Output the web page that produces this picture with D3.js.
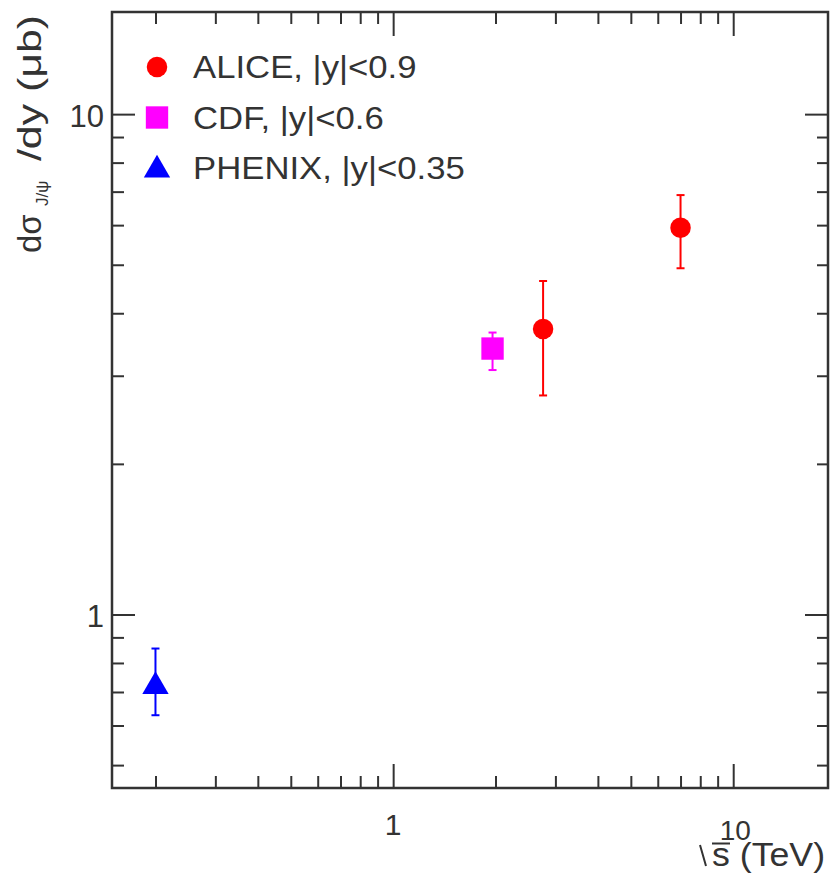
<!DOCTYPE html>
<html>
<head>
<meta charset="utf-8">
<script src="https://cdn.jsdelivr.net/npm/d3@7"></script>
<style>
  body { margin: 0; background: #fff; }
  text { font-family: "Liberation Sans", Arial, sans-serif; fill: #333; }
</style>
</head>
<body>
<svg id="chart" width="830" height="891"></svg>
<script>
// values
var legendLabels = ["ALICE, |y|<0.9", "CDF, |y|<0.6", "PHENIX, |y|<0.35"];
var aliceEnergy = [2.76, 7];
var aliceValue = [3.72, 5.93];
var aliceLow = [2.74, 4.92];
var aliceHigh = [4.64, 6.89];
var cdfEnergy = [1.96];
var cdfValue = [3.40];
var cdfLow = [3.08];
var cdfHigh = [3.66];
var phenixEnergy = [0.2];
var phenixValue = [0.725];
var phenixLow = [0.629];
var phenixHigh = [0.855];
var xMajor = [1, 10];
var xMinor = [0.2, 0.3, 0.4, 0.5, 0.6, 0.7, 0.8, 0.9, 2, 3, 4, 5, 6, 7, 8, 9];
var yMajor = [1, 10];
var yMinor = [0.5, 0.6, 0.7, 0.8, 0.9, 2, 3, 4, 5, 6, 7, 8, 9];

// frame edges (pixels)
var padL = 112, padR = 828, padT = 12, padB = 788;
var svg = d3.select("#chart");

var x = d3.scaleLog().domain([0.149, 19]).range([padL, padR]);
var y = d3.scaleLog().domain([0.45, 16]).range([padB, padT]);

// build series list from the arrays
function series(name, energy, value, low, high, color, shape) {
    return energy.map(function(e, i) {
        return { name: name, e: e, v: value[i], lo: low[i], hi: high[i], color: color, shape: shape };
    });
}
var points = [].concat(
    series("ALICE", aliceEnergy, aliceValue, aliceLow, aliceHigh, "#ff0000", "circle"),
    series("CDF", cdfEnergy, cdfValue, cdfLow, cdfHigh, "#ff00ff", "square"),
    series("PHENIX", phenixEnergy, phenixValue, phenixLow, phenixHigh, "#0000ff", "triangle")
);

// ticks on all four sides, ROOT style (pointing inward)
function addTicks(axisFn, scale, values, size, tx, ty) {
    var g = svg.append("g")
        .attr("transform", "translate(" + tx + "," + ty + ")")
        .call(axisFn(scale).tickValues(values).tickSize(size).tickSizeOuter(0).tickFormat(""));
    g.select(".domain").remove();
    g.selectAll("line").attr("stroke", "#333").attr("stroke-width", 2);
}
addTicks(d3.axisTop, x, xMajor, 24, 0, padB);
addTicks(d3.axisTop, x, xMinor, 12, 0, padB);
addTicks(d3.axisBottom, x, xMajor, 24, 0, padT);
addTicks(d3.axisBottom, x, xMinor, 12, 0, padT);
addTicks(d3.axisRight, y, yMajor, 23, padL, 0);
addTicks(d3.axisRight, y, yMinor, 12, padL, 0);
addTicks(d3.axisLeft, y, yMajor, 23, padR, 0);
addTicks(d3.axisLeft, y, yMinor, 11, padR, 0);

// frame
svg.append("rect")
    .attr("x", padL).attr("y", padT)
    .attr("width", padR - padL).attr("height", padB - padT)
    .attr("fill", "none").attr("stroke", "#333").attr("stroke-width", 2.5);

// tick labels
svg.selectAll(".ylab").data(yMajor).enter().append("text")
    .attr("x", 104).attr("y", function(d) { return y(d) + 13; })
    .attr("text-anchor", "end").attr("font-size", 31)
    .text(function(d) { return d; });
svg.append("text").attr("x", x(1)).attr("y", 835)
    .attr("text-anchor", "middle").attr("font-size", 30).text("1");
svg.append("text").attr("x", x(10) + 2).attr("y", 840)
    .attr("text-anchor", "middle").attr("font-size", 28).text("10");

// x title with root sign
svg.append("text")
    .attr("transform", "translate(712,866) scale(1.05,1)")
    .attr("font-size", 34).text("s (TeV)");
svg.append("path")
    .attr("d", "M700,845 L706,866 M712,843.5 L730,843.5")
    .attr("stroke", "#333").attr("stroke-width", 2).attr("fill", "none");

// y title, pieces placed along the rotated axis
var yt = svg.append("g").attr("transform", "translate(41,0) rotate(-90)");
yt.append("text").attr("x", -253).attr("font-size", 33).text("dσ");
yt.append("text").attr("x", -206).attr("y", 7).attr("font-size", 17).text("J/ψ");
yt.append("text")
    .attr("transform", "translate(-15,0) scale(1.26,1)")
    .attr("text-anchor", "end").attr("font-size", 34).text("/dy (μb)");

// error bars
var bars = svg.append("g");
points.forEach(function(p) {
    var cx = x(p.e);
    bars.append("line").attr("x1", cx).attr("x2", cx)
        .attr("y1", y(p.lo)).attr("y2", y(p.hi))
        .attr("stroke", p.color).attr("stroke-width", 2);
    [p.lo, p.hi].forEach(function(v) {
        bars.append("line").attr("x1", cx - 4).attr("x2", cx + 4)
            .attr("y1", y(v)).attr("y2", y(v))
            .attr("stroke", p.color).attr("stroke-width", 2);
    });
});

// markers
var symbolType = { circle: d3.symbolCircle, square: d3.symbolSquare, triangle: d3.symbolTriangle };
var symbolSize = { circle: 330, square: 500, triangle: 300 };
function drawMarker(g, shape, color, cx, cy) {
    g.append("path")
        .attr("d", d3.symbol().type(symbolType[shape]).size(symbolSize[shape]))
        .attr("transform", "translate(" + cx + "," + (shape === "triangle" ? cy + 2 : cy) + ")")
        .attr("fill", color);
}
var marks = svg.append("g");
points.forEach(function(p) { drawMarker(marks, p.shape, p.color, x(p.e), y(p.v)); });

// legend
var legendColors = ["#ff0000", "#ff00ff", "#0000ff"];
var legendShapes = ["circle", "square", "triangle"];
var legend = svg.append("g");
legendLabels.forEach(function(label, i) {
    var ly = 67 + i * 50.5;
    drawMarker(legend, legendShapes[i], legendColors[i], 157, ly);
    legend.append("text")
        .attr("transform", "translate(193," + (ly + 11) + ") scale(1.12,1)")
        .attr("font-size", 31).text(label);
});
</script>
</body>
</html>
